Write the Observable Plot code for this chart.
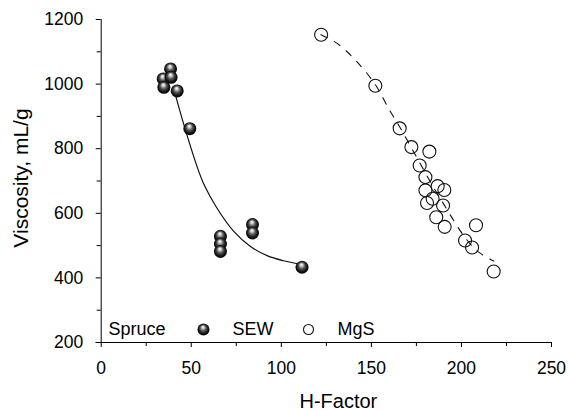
<!DOCTYPE html>
<html><head><meta charset="utf-8">
<script src="https://cdn.jsdelivr.net/npm/d3@7"></script>
<script src="https://cdn.jsdelivr.net/npm/@observablehq/plot@0.6"></script>
<style>body{margin:0;background:#fff}</style>
</head><body><div id="chart"></div>
<script>
// SEW (dark balls)
const sewH = [38.5, 34.4, 38.8, 34.8, 42.2, 49.2, 66.2, 66.2, 66.2, 84.0, 84.0, 111.5];
const sewV = [1047, 1016, 1021, 990, 979, 862, 529, 505, 482, 565, 539, 433];
// MgS (open circles)
const mgsH = [122.1, 152.2, 165.7, 172.2, 182.2, 176.8, 180.0, 180.0, 186.8, 190.5, 184.0, 180.9, 189.8, 186.0, 190.7, 208.1, 202.0, 205.9, 217.9];
const mgsV = [1153, 995, 863, 805, 791, 748, 712, 671, 684, 672, 645, 632, 624, 588, 558, 563, 516, 494, 420];
// fitted curves
const sewFitH = [40.3, 45.8, 52.9, 57.0, 64.4, 73.6, 82.9, 92.1, 101.3, 110.6];
const sewFitV = [985, 876, 750, 690, 615, 544, 497, 469, 453, 442];
const mgsFitH = [122, 131, 141, 152, 160, 166, 172, 178, 184, 190, 196, 202, 209, 218];
const mgsFitV = [1153, 1126, 1075, 1000, 920, 865, 805, 745, 685, 630, 575, 525, 482, 452];
// ticks
const xTicks = [0, 50, 100, 150, 200, 250];
const xMinor = [25, 75, 125, 175, 225];
const yTicks = [200, 400, 600, 800, 1000, 1200];
const yMinor = [300, 500, 700, 900, 1100];
const legendLabels = ["Spruce", "SEW", "MgS"];

const sew = sewH.map((h, i) => ({h, v: sewV[i]}));
const mgs = mgsH.map((h, i) => ({h, v: mgsV[i]}));
const sewFit = sewFitH.map((h, i) => ({h, v: sewFitV[i]}));
const mgsFit = mgsFitH.map((h, i) => ({h, v: mgsFitV[i]}));

const legendText = (label, dx) => Plot.text([label], {
  frameAnchor: "bottom-left", dx, dy: -13, textAnchor: "start", lineAnchor: "middle", fontSize: 18, fill: "#000"
});

const plot = Plot.plot({
  width: 570, height: 410,
  marginLeft: 100.7, marginRight: 19, marginTop: 19, marginBottom: 68,
  style: {fontFamily: "'Liberation Sans', Arial, sans-serif", fontSize: "17.5px", background: "#fff", overflow: "visible"},
  x: {domain: [0, 250]},
  y: {domain: [200, 1200]},
  marks: [
    Plot.ruleY([200], {insetLeft: -5, stroke: "#000", strokeWidth: 1}),
    Plot.ruleX([0], {stroke: "#000", strokeWidth: 1}),
    Plot.axisX({ticks: xTicks, tickSize: 5, tickPadding: 14, tickFormat: d => String(d), fontSize: 17.5, label: null, stroke: "#000", fill: "#000"}),
    Plot.axisX({ticks: xMinor, tickSize: 4, tickFormat: () => "", label: null, stroke: "#000"}),
    Plot.axisY({ticks: yTicks, tickSize: 5, tickPadding: 13, tickFormat: d => String(d), fontSize: 17.5, label: null, stroke: "#000", fill: "#000"}),
    Plot.axisY({ticks: yMinor, tickSize: 4, tickFormat: () => "", label: null, stroke: "#000"}),
    Plot.line(sewFit, {x: "h", y: "v", curve: "catmull-rom", stroke: "#111", strokeWidth: 1.2}),
    Plot.line(mgsFit, {x: "h", y: "v", curve: "catmull-rom", stroke: "#111", strokeWidth: 1.1, strokeDasharray: "7,8"}),
    Plot.dot(mgs, {x: "h", y: "v", r: 6.5, stroke: "#111", strokeWidth: 1.1, fill: "none"}),
    Plot.dot(sew, {x: "h", y: "v", r: 6.5, fill: "url(#ball)", stroke: "none"}),
    // legend
    legendText(legendLabels[0], 7.3),
    Plot.dot([0], {frameAnchor: "bottom-left", dx: 102.3, dy: -13, r: 6, fill: "url(#ball)", stroke: "none"}),
    legendText(legendLabels[1], 131.3),
    Plot.dot([0], {frameAnchor: "bottom-left", dx: 207.3, dy: -13, r: 5, fill: "none", stroke: "#111", strokeWidth: 1.1}),
    legendText(legendLabels[2], 236.3),
    // axis titles
    Plot.text(["H-Factor"], {frameAnchor: "bottom", dx: 12, dy: 58.6, textAnchor: "middle", lineAnchor: "middle", fontSize: 20, fill: "#000"}),
    Plot.text(["Viscosity, mL/g"], {frameAnchor: "left", dx: -80.4, dy: -3, textAnchor: "middle", lineAnchor: "middle", rotate: -90, fontSize: 21, fill: "#000"})
  ]
});

const defs = d3.select(plot).insert("defs", ":first-child");
const g = defs.append("radialGradient").attr("id", "ball")
  .attr("cx", "50%").attr("cy", "50%").attr("r", "55%")
  .attr("fx", "45%").attr("fy", "28%");
g.append("stop").attr("offset", "0%").attr("stop-color", "#ffffff");
g.append("stop").attr("offset", "18%").attr("stop-color", "#d0d0d0");
g.append("stop").attr("offset", "45%").attr("stop-color", "#555");
g.append("stop").attr("offset", "75%").attr("stop-color", "#111");
g.append("stop").attr("offset", "100%").attr("stop-color", "#000");

document.getElementById("chart").appendChild(plot);
</script>
</body></html>
